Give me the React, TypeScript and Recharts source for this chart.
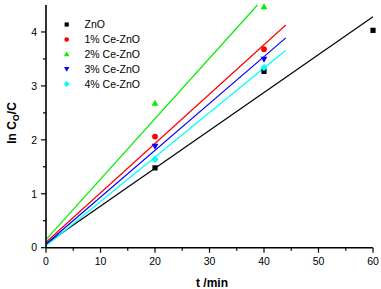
import React from 'react';
import { ComposedChart, XAxis, YAxis, Scatter, Line, Legend } from 'recharts';

// measured points
const tZnO = [20, 40, 60];
const znoVals = [1.48, 3.27, 4.03];
const tCe = [20, 40];
const ce1Vals = [2.06, 3.68];
const ce2Vals = [2.68, 4.47];
const ce3Vals = [1.88, 3.49];
const ce4Vals = [1.64, 3.34];

// linear fits (start/end)
const fitZnO = [{ t: 0, v: 0.07 }, { t: 60, v: 4.28 }];
const fitCe1 = [{ t: 0, v: 0.1 }, { t: 44, v: 4.13 }];
const fitCe2 = [{ t: 0, v: 0.15 }, { t: 38.8, v: 4.5 }];
const fitCe3 = [{ t: 0, v: 0.07 }, { t: 44, v: 3.89 }];
const fitCe4 = [{ t: 0, v: 0.03 }, { t: 44, v: 3.66 }];

const xTicks = [0, 5, 10, 15, 20, 25, 30, 35, 40, 45, 50, 55, 60];
const yTicks = [0, 0.5, 1, 1.5, 2, 2.5, 3, 3.5, 4];
const seriesNames = ['ZnO', '1% Ce-ZnO', '2% Ce-ZnO', '3% Ce-ZnO', '4% Ce-ZnO'];
const seriesColors = ['#000000', '#ff0000', '#00ee00', '#0000ff', '#00ffff'];

const FONT = '"Liberation Sans", Arial, sans-serif';

const pts = (ts: number[], vs: number[]) => ts.map((t, i) => ({ t, v: vs[i] }));

const drawSymbol = (kind: number, cx: number, cy: number, s: number, color: string) => {
  switch (kind) {
    case 0:
      return <rect x={cx - s} y={cy - s} width={2 * s} height={2 * s} fill={color} />;
    case 1:
      return <circle cx={cx} cy={cy} r={s * 1.1} fill={color} />;
    case 2:
      return <path d={`M${cx},${cy - s * 1.3}L${cx + s * 1.3},${cy + s}L${cx - s * 1.3},${cy + s}Z`} fill={color} />;
    case 3:
      return <path d={`M${cx},${cy + s * 1.3}L${cx + s * 1.3},${cy - s}L${cx - s * 1.3},${cy - s}Z`} fill={color} />;
    default:
      return <path d={`M${cx},${cy - s * 1.4}L${cx + s * 1.4},${cy}L${cx},${cy + s * 1.4}L${cx - s * 1.4},${cy}Z`} fill={color} />;
  }
};

const makeShape = (kind: number) => (props: any) => {
  const { cx, cy } = props;
  if (cx == null || cy == null) return <g />;
  return drawSymbol(kind, cx, cy, 2.6, seriesColors[kind]);
};

const XTick = (props: any) => {
  const { x, y, payload } = props;
  const major = payload.value % 10 === 0;
  return (
    <g>
      <line x1={x} x2={x} y1={y} y2={y + (major ? 5 : 3)} stroke="#000" strokeWidth={1.2} />
      {major && (
        <text x={x} y={y + 17} textAnchor="middle" fontSize={10.5} fontFamily={FONT} fill="#000">
          {payload.value}
        </text>
      )}
    </g>
  );
};

const YTick = (props: any) => {
  const { x, y, payload } = props;
  const major = payload.value % 1 === 0;
  return (
    <g>
      <line x1={x} x2={x - (major ? 5 : 3)} y1={y} y2={y} stroke="#000" strokeWidth={1.2} />
      {major && (
        <text x={x - 9} y={y} dy="0.36em" textAnchor="end" fontSize={10.5} fontFamily={FONT} fill="#000">
          {payload.value}
        </text>
      )}
    </g>
  );
};

const renderLegend = () => {
  const rows = [8.5, 23.5, 38.2, 53, 68];
  return (
    <svg width={110} height={80} style={{ display: 'block' }}>
      {seriesNames.map((n, i) => (
        <g key={n}>
          {drawSymbol(i, 6.7, rows[i], 2.1, seriesColors[i])}
          <text x={24.5} y={rows[i]} dy="0.36em" fontSize={10.5} fontFamily={FONT} fill="#000">
            {n}
          </text>
        </g>
      ))}
    </svg>
  );
};

export default function App() {
  return (
    <div style={{ position: 'absolute', left: 0, top: 0, background: '#fff' }}>
      <ComposedChart width={381} height={289} margin={{ top: 5, right: 8, bottom: 0, left: 0 }}>
        <XAxis
          type="number"
          dataKey="t"
          domain={[0, 60]}
          ticks={xTicks}
          interval={0}
          tick={<XTick />}
          tickLine={false}
          tickSize={0}
          tickMargin={0}
          axisLine={{ stroke: '#000', strokeWidth: 1.6 }}
          height={41.3}
        />
        <XAxis
          xAxisId="top"
          orientation="top"
          type="number"
          dataKey="t"
          domain={[0, 60]}
          tick={false}
          tickLine={false}
          axisLine={{ stroke: '#000', strokeWidth: 1.4 }}
          height={0}
        />
        <YAxis
          type="number"
          dataKey="v"
          domain={[0, 4.5]}
          ticks={yTicks}
          interval={0}
          tick={<YTick />}
          tickLine={false}
          tickSize={0}
          tickMargin={0}
          axisLine={{ stroke: '#000', strokeWidth: 1.6 }}
          width={46}
        />
        <YAxis
          yAxisId="right"
          orientation="right"
          type="number"
          dataKey="v"
          domain={[0, 4.5]}
          tick={false}
          tickLine={false}
          axisLine={{ stroke: '#000', strokeWidth: 1.4 }}
          width={0}
        />
        <Line data={fitZnO} dataKey="v" stroke={seriesColors[0]} strokeWidth={1.2} dot={false} isAnimationActive={false} legendType="none" />
        <Line data={fitCe1} dataKey="v" stroke={seriesColors[1]} strokeWidth={1.2} dot={false} isAnimationActive={false} legendType="none" />
        <Line data={fitCe2} dataKey="v" stroke={seriesColors[2]} strokeWidth={1.2} dot={false} isAnimationActive={false} legendType="none" />
        <Line data={fitCe3} dataKey="v" stroke={seriesColors[3]} strokeWidth={1.2} dot={false} isAnimationActive={false} legendType="none" />
        <Line data={fitCe4} dataKey="v" stroke={seriesColors[4]} strokeWidth={1.2} dot={false} isAnimationActive={false} legendType="none" />
        <Scatter data={pts(tZnO, znoVals)} dataKey="v" shape={makeShape(0)} isAnimationActive={false} />
        <Scatter data={pts(tCe, ce1Vals)} dataKey="v" shape={makeShape(1)} isAnimationActive={false} />
        <Scatter data={pts(tCe, ce2Vals)} dataKey="v" shape={makeShape(2)} isAnimationActive={false} />
        <Scatter data={pts(tCe, ce3Vals)} dataKey="v" shape={makeShape(3)} isAnimationActive={false} />
        <Scatter data={pts(tCe, ce4Vals)} dataKey="v" shape={makeShape(4)} isAnimationActive={false} />
        <Legend
          layout="vertical"
          align="center"
          verticalAlign="middle"
          content={renderLegend}
          wrapperStyle={{ left: 60, top: 16, width: 110, height: 80 }}
        />
        <text x={212} y={286.5} textAnchor="middle" fontSize={12} fontWeight="bold" fontFamily={FONT} fill="#000">
          t /min
        </text>
        <text x={16} y={123} transform="rotate(-90 16 123)" textAnchor="middle" fontSize={12} fontWeight="bold" fontFamily={FONT} fill="#000">
          ln C<tspan fontSize={9} dy={3}>O</tspan>
          <tspan dy={-3}>/C</tspan>
        </text>
      </ComposedChart>
    </div>
  );
}
